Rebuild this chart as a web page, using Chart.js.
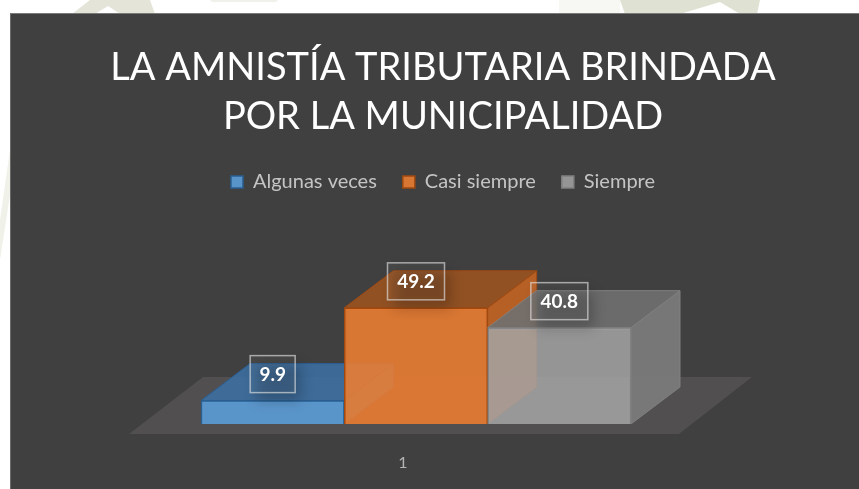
<!DOCTYPE html>
<html><head><meta charset="utf-8">
<style>
html,body{margin:0;padding:0;background:#fff;overflow:hidden;width:859px;height:489px}
#wm{position:absolute;left:0;top:0}
#panel{position:absolute;left:10px;top:13px;right:0;bottom:0;background:#404040;border-left:1px solid #6a6a6a;border-top:1px solid #7a7a7a}
#c{position:absolute;left:27px;top:14px}
</style>
<script src="https://cdn.jsdelivr.net/npm/chart.js@4/dist/chart.umd.min.js"></script>
</head><body>
<svg id="wm" width="859" height="489">
<polygon points="72,14 90,0 150,0 155,14 120,14 108,6 95,14" fill="#e4e5d8"/>
<polygon points="210,0 278,0 276,2 212,2" fill="#f1f1ec"/>
<polygon points="559,0 620,0 620,14 559,14" fill="#f7f7f3"/>
<polygon points="620,0 760,0 757,14 740,14 720,2 680,14 625,14" fill="#dfe2d3"/>
<polygon points="0,220 10,150 10,195 0,260" fill="#f0f1e8"/>
</svg>
<div id="panel"></div>
<canvas id="c" width="832" height="475"></canvas>
<script>
const titleLines = ['LA AMNISTÍA TRIBUTARIA BRINDADA', 'POR LA MUNICIPALIDAD'];
const categories = ['1'];
const seriesNames = ['Algunas veces', 'Casi siempre', 'Siempre'];
const seriesValues = [9.9, 49.2, 40.8];
const frontColors = ['rgba(91,155,213,.92)', 'rgba(237,125,49,.88)', 'rgba(165,165,165,.85)'];
const edgeColors = ['#2a5f92', '#a04a12', '#808080'];
const topColors = ['rgba(60,110,160,.9)', 'rgba(160,85,30,.85)', 'rgba(112,112,112,.9)'];
const sideColors = ['rgba(70,125,180,.9)', 'rgba(196,100,36,.9)', 'rgba(122,122,122,.95)'];
const DEPTH_X = 49, DEPTH_Y = 37;

function poly(ctx, pts, fill, stroke) {
  ctx.beginPath();
  pts.forEach((p, i) => i ? ctx.lineTo(p[0], p[1]) : ctx.moveTo(p[0], p[1]));
  ctx.closePath();
  ctx.fillStyle = fill; ctx.fill();
  if (stroke) { ctx.strokeStyle = stroke; ctx.lineWidth = 1; ctx.stroke(); }
}

const solid3d = {
  id: 'solid3d',
  beforeDatasetsDraw(chart) {
    const ctx = chart.ctx, a = chart.chartArea, y0 = chart.scales.y.getPixelForValue(0);
    ctx.save();
    poly(ctx, [[a.left - 72, y0 + 10], [a.right + 48, y0 + 10], [a.right + 121, y0 - 47], [a.left + 2, y0 - 47]], '#514f4f');
    seriesValues.forEach((v, i) => {
      const meta = chart.getDatasetMeta(i), el = meta.data[0];
      const l = el.x - el.width / 2, r = el.x + el.width / 2, t = el.y, b = el.base;
      poly(ctx, [[r, t], [r + DEPTH_X, t - DEPTH_Y], [r + DEPTH_X, b - DEPTH_Y], [r, b]], sideColors[i], edgeColors[i]);
      poly(ctx, [[l, t], [l + DEPTH_X, t - DEPTH_Y], [r + DEPTH_X, t - DEPTH_Y], [r, t]], topColors[i], edgeColors[i]);
      meta.controller.draw();
    });
    ctx.restore();
  },
  beforeDatasetDraw() { return false; },
  afterDatasetsDraw(chart) {
    const ctx = chart.ctx;
    seriesValues.forEach((v, i) => {
      const el = chart.getDatasetMeta(i).data[0];
      const cx = el.x, cy = el.y - 26.5, w = i === 0 ? 45 : 57, h = 37;
      ctx.save();
      ctx.save();
      ctx.shadowColor = 'rgba(0,0,0,.22)'; ctx.shadowBlur = 12;
      ctx.shadowOffsetX = 2000 + 6; ctx.shadowOffsetY = 8;
      ctx.fillStyle = '#000';
      ctx.fillRect(cx - w / 2 - 2000, cy - h / 2, w, h);
      ctx.restore();
      ctx.fillStyle = 'rgba(255,255,255,.04)';
      ctx.fillRect(cx - w / 2, cy - h / 2, w, h);
      ctx.strokeStyle = 'rgba(225,225,225,.65)'; ctx.lineWidth = 1.5;
      ctx.strokeRect(cx - w / 2, cy - h / 2, w, h);
      ctx.fillStyle = '#fff';
      ctx.font = 'bold 19px Lato';
      ctx.textAlign = 'center'; ctx.textBaseline = 'middle';
      ctx.fillText(String(v), cx, cy + 0.5);
      ctx.restore();
    });
  }
};

const datasets = seriesNames.map((name, i) => ({
  label: name,
  data: [seriesValues[i]],
  backgroundColor: frontColors[i],
  borderColor: edgeColors[i],
  borderWidth: 1.5
}));

new Chart(document.getElementById('c'), {
  type: 'bar',
  data: { labels: categories, datasets },
  plugins: [solid3d],
  options: {
    responsive: false, animation: false, events: [],
    layout: { padding: 0 },
    datasets: { bar: { categoryPercentage: 1, barPercentage: 1 } },
    scales: {
      x: {
        grid: { display: false }, border: { display: false },
        ticks: { color: '#b4b4b4', font: { family: 'Lato', size: 16 }, labelOffset: -13, padding: 21, maxRotation: 0 },
        afterFit(s) { s.height = 65; }
      },
      y: {
        min: 0, max: 94, position: 'left',
        grid: { display: false }, border: { display: false },
        ticks: { display: false },
        afterFit(s) { s.width = 174; }
      },
      yr: {
        min: 0, max: 94, position: 'right',
        grid: { display: false }, border: { display: false },
        ticks: { display: false },
        afterFit(s) { s.width = 228; }
      }
    },
    plugins: {
      tooltip: { enabled: false },
      title: {
        display: true, text: titleLines, color: '#fff',
        font: { family: 'Lato', size: 38, weight: 400, lineHeight: 1.29 },
        padding: { top: 29, bottom: 5 }
      },
      legend: {
        display: true, position: 'top',
        labels: {
          color: '#c4c4c4', font: { family: 'Lato', size: 20 },
          boxWidth: 12, boxHeight: 12, padding: 26,
          generateLabels(chart) {
            return seriesNames.map((n, i) => ({
              text: n, fillStyle: frontColors[i], strokeStyle: edgeColors[i],
              lineWidth: 1.5, datasetIndex: i, fontColor: '#c4c4c4'
            }));
          }
        }
      }
    }
  }
});
</script>
</body></html>
